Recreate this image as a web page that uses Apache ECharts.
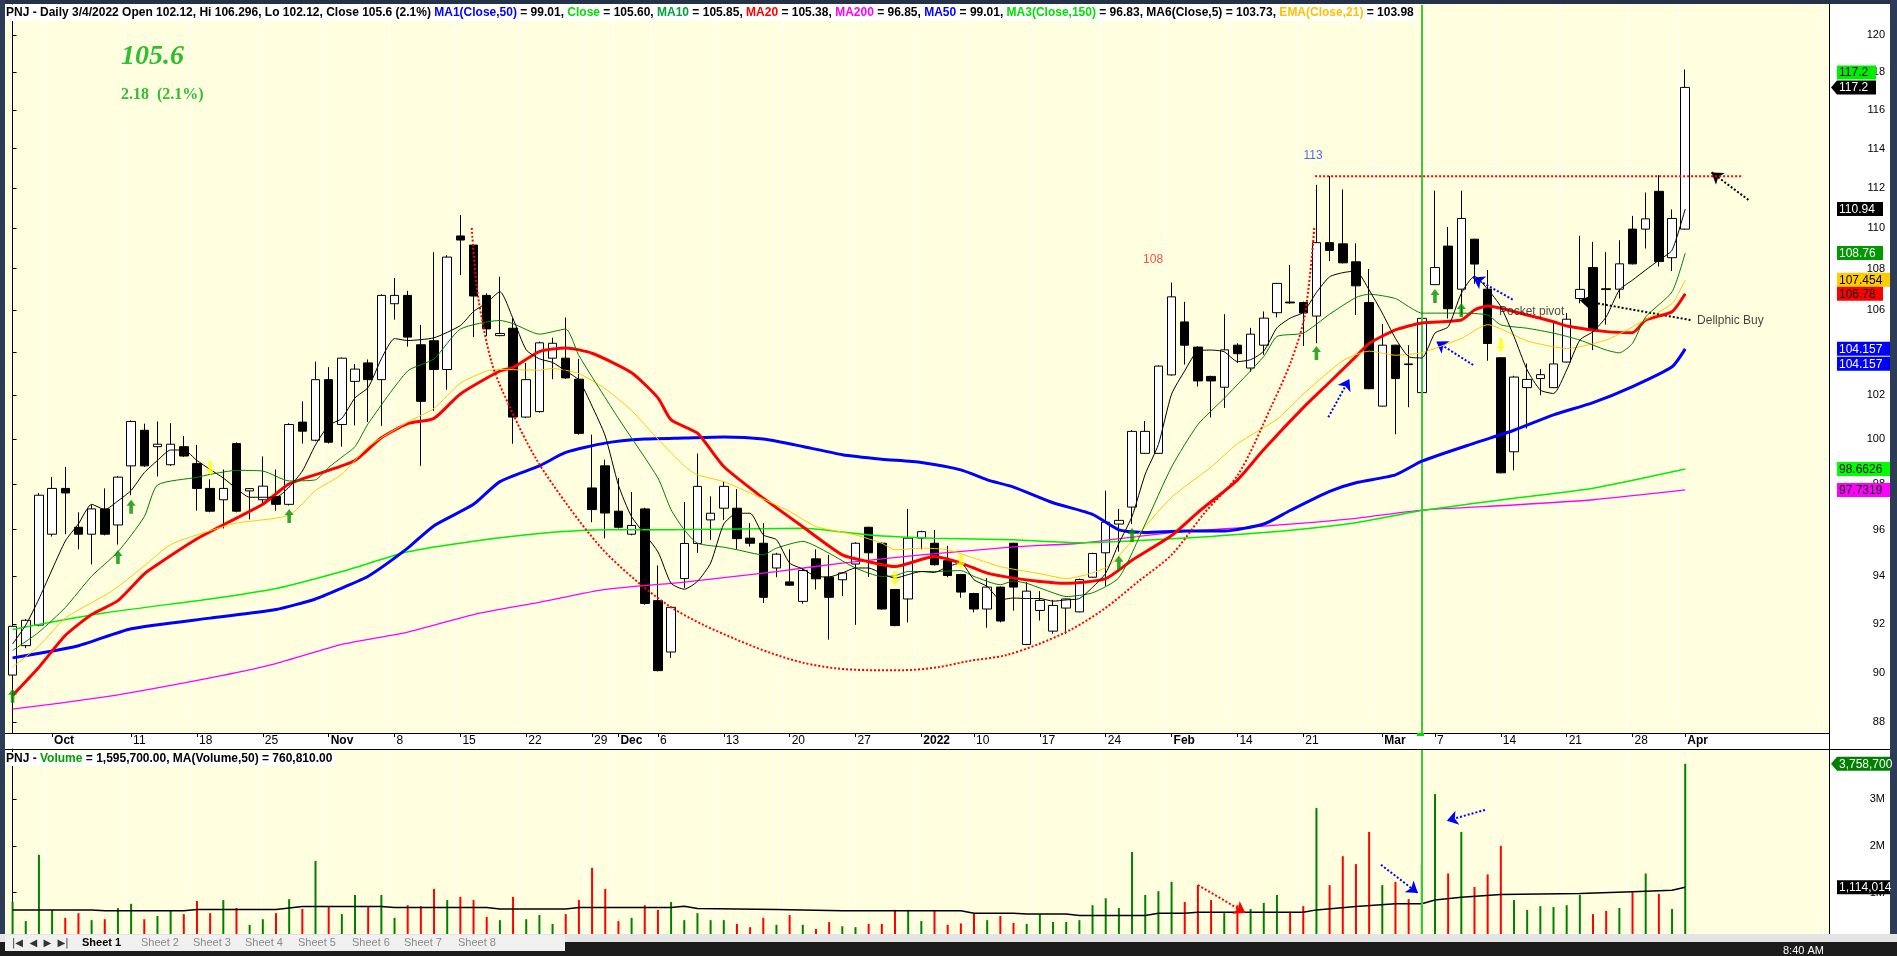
<!DOCTYPE html>
<html><head><meta charset="utf-8">
<script src="https://cdn.jsdelivr.net/npm/echarts@6/dist/echarts.min.js"></script>
<style>html,body{margin:0;padding:0;background:#2c3b56;overflow:hidden}#c{width:1897px;height:956px}</style>
</head><body><div id="c"></div>
<script>
// ---------------- data ----------------
const dates = [
'2021-09-28','2021-09-29','2021-09-30',
'2021-10-01','2021-10-04','2021-10-05','2021-10-06','2021-10-07','2021-10-08','2021-10-11','2021-10-12','2021-10-13','2021-10-14','2021-10-15',
'2021-10-18','2021-10-19','2021-10-20','2021-10-21','2021-10-22','2021-10-25','2021-10-26','2021-10-27','2021-10-28','2021-10-29',
'2021-11-01','2021-11-02','2021-11-03','2021-11-04','2021-11-05','2021-11-08','2021-11-09','2021-11-10','2021-11-11','2021-11-12',
'2021-11-15','2021-11-16','2021-11-17','2021-11-18','2021-11-19','2021-11-22','2021-11-23','2021-11-24','2021-11-25','2021-11-26',
'2021-11-29','2021-11-30',
'2021-12-01','2021-12-02','2021-12-03','2021-12-06','2021-12-07','2021-12-08','2021-12-09','2021-12-10','2021-12-13','2021-12-14',
'2021-12-15','2021-12-16','2021-12-17','2021-12-20','2021-12-21','2021-12-22','2021-12-23','2021-12-24','2021-12-27','2021-12-28',
'2021-12-29','2021-12-30','2021-12-31',
'2022-01-04','2022-01-05','2022-01-06','2022-01-07','2022-01-10','2022-01-11','2022-01-12','2022-01-13','2022-01-14','2022-01-17',
'2022-01-18','2022-01-19','2022-01-20','2022-01-21','2022-01-24','2022-01-25','2022-01-26','2022-01-27','2022-01-28',
'2022-02-07','2022-02-08','2022-02-09','2022-02-10','2022-02-11','2022-02-14','2022-02-15','2022-02-16','2022-02-17','2022-02-18',
'2022-02-21','2022-02-22','2022-02-23','2022-02-24','2022-02-25','2022-02-28',
'2022-03-01','2022-03-02','2022-03-03','2022-03-04','2022-03-07','2022-03-08','2022-03-09','2022-03-10','2022-03-11','2022-03-14',
'2022-03-15','2022-03-16','2022-03-17','2022-03-18','2022-03-21','2022-03-22','2022-03-23','2022-03-24','2022-03-25','2022-03-28',
'2022-03-29','2022-03-30','2022-03-31','2022-04-01'];

const opens = [89.9,91.1,91.95,95.8,97.8,96.1,95.8,96.9,96.2,98.8,
100.4,99.66,98.85,99.66,98.9,97.8,97.3,99.8,97.69,97.3,
97.44,97.1,100.77,99.95,102.72,100.66,102.64,103.5,102.72,106.3,
106.7,104.35,104.54,103.19,109.6,109.15,106.7,104.78,105.13,101.0,
101.25,103.72,103.72,102.74,97.82,98.8,96.8,95.8,96.9,92.97,
90.84,93.9,95.4,96.42,96.93,96.93,95.63,95.41,94.35,93.76,
92.94,94.74,93.96,93.85,94.52,96.1,95.41,93.44,93.04,95.63,
95.41,94.66,94.07,93.27,92.62,93.54,95.41,91.15,92.56,91.7,
92.66,92.5,93.96,95.0,96.24,96.98,99.36,99.36,102.94,105.43,
104.24,102.87,102.37,104.33,103.26,104.33,105.87,106.38,106.36,105.71,
109.27,109.21,108.33,106.36,101.5,104.33,103.45,102.12,107.22,109.1,
107.0,109.44,107.0,103.74,99.43,102.35,102.77,102.35,103.54,106.55,
108.05,107.02,107.0,109.94,109.94,111.83,108.53,109.94];
const highs = [91.95,92.2,97.6,98.3,98.75,96.75,97.1,97.8,98.35,100.85,
100.7,100.8,100.72,100.14,99.74,98.2,98.64,99.85,97.82,99.22,
98.64,100.72,101.72,103.56,103.3,103.75,103.44,103.66,106.75,107.54,
106.92,105.29,108.8,108.65,110.64,109.2,106.8,107.6,105.62,103.5,
104.5,104.68,105.64,103.69,100.2,99.08,98.26,97.64,96.95,94.46,
92.72,97.2,99.35,97.45,98.11,97.77,96.28,96.28,95.0,95.15,
94.3,95.15,94.91,94.18,95.45,96.12,95.45,93.46,96.9,95.95,
95.98,95.3,94.1,93.3,93.92,93.56,95.43,93.75,93.37,93.0,
93.06,93.9,95.0,97.7,96.9,100.4,100.82,103.38,107.32,106.39,
104.27,102.9,105.8,104.42,105.15,105.93,107.3,108.18,106.4,112.16,
112.6,111.92,109.24,107.98,105.33,104.35,104.33,106.296,111.86,110.05,
111.86,109.46,107.93,103.76,102.9,103.47,103.21,105.41,105.85,109.61,
109.31,108.8,109.39,110.6,111.77,112.65,110.92,118.15];
const lows = [89.5,91.0,91.9,95.7,95.8,95.15,94.5,95.75,95.35,97.5,
98.75,98.33,98.8,99.2,96.82,96.75,96.05,96.75,96.44,97.1,
96.82,97.05,99.8,99.9,99.8,99.66,100.62,100.77,100.6,105.54,
104.26,98.8,101.28,102.25,107.68,104.71,104.76,104.75,99.79,100.95,
101.2,102.74,102.75,100.2,96.32,95.62,96.05,95.75,92.8,90.05,
90.6,93.5,95.0,95.56,96.42,95.15,95.27,92.87,93.96,93.6,
92.84,93.44,91.35,93.16,91.96,93.97,92.6,91.9,92.06,95.15,
94.45,93.96,93.09,92.48,91.84,92.06,92.55,91.12,92.14,91.59,
91.59,92.48,93.94,93.59,95.05,96.24,99.34,99.34,102.9,103.42,
102.4,100.98,101.42,103.49,103.08,103.88,105.65,106.3,104.29,104.42,
108.37,108.25,105.76,102.28,101.48,100.22,101.45,102.12,107.2,105.59,
105.77,107.26,103.6,98.47,98.6,100.48,102.0,102.33,103.52,106.32,
104.1,105.3,106.55,108.2,108.98,108.1,107.88,109.92];
const closes = [91.9,92.15,97.5,97.8,97.6,95.8,96.9,95.8,98.3,100.8,
98.8,99.77,99.77,99.24,97.8,96.8,97.8,96.8,97.79,97.9,
97.1,100.66,100.36,102.72,99.86,103.72,103.21,102.72,106.7,106.7,
104.71,101.72,103.19,108.56,109.4,106.67,105.1,104.88,101.0,102.72,
104.44,104.42,102.8,100.26,96.87,96.72,96.1,96.18,92.85,90.08,
92.69,95.4,97.89,96.71,97.89,95.61,95.41,93.11,94.94,93.62,
94.24,93.89,93.11,94.14,95.41,95.0,92.62,91.93,95.63,95.91,
94.49,94.03,93.33,92.62,93.54,92.12,93.54,93.37,92.98,92.77,
93.04,93.86,94.97,96.32,96.4,100.35,100.35,103.35,106.63,104.33,
102.66,102.66,104.11,103.93,104.85,105.61,107.28,106.34,105.86,109.27,
108.89,108.28,107.16,102.3,104.33,102.77,103.42,105.6,108.05,106.06,
110.47,108.22,104.41,98.49,102.84,102.73,102.95,103.45,105.56,106.99,
105.05,106.98,108.23,108.23,110.45,108.34,110.47,117.2];

// volume in millions of shares, and bar colour (g = up, r = down)
const volM = [0.80,0.39,1.81,0.63,0.46,0.56,0.41,0.43,0.67,0.76,
0.43,0.50,0.61,0.54,0.82,0.56,0.84,0.67,0.31,0.43,
0.56,0.86,0.65,1.68,0.71,0.54,0.95,0.69,0.95,0.46,
0.73,0.71,1.08,0.84,0.91,0.84,0.48,0.41,0.91,0.43,
0.52,0.33,0.54,0.84,1.53,1.08,0.39,0.46,0.73,0.63,
0.80,0.41,0.56,0.41,0.41,0.33,0.26,0.46,0.31,0.52,
0.31,0.22,0.37,0.28,0.26,0.33,0.33,0.63,0.63,0.39,
0.61,0.31,0.34,0.56,0.41,0.50,0.35,0.33,0.54,0.37,
0.37,0.41,0.73,0.88,0.67,1.87,0.95,1.03,1.23,0.80,
1.16,0.84,0.56,0.73,0.65,0.78,0.95,0.59,0.71,2.81,
1.16,1.78,1.61,2.30,1.16,1.23,0.86,1.5957,3.11,1.41,
2.30,1.12,1.39,2.00,0.84,0.63,0.71,0.69,0.73,0.95,
0.54,0.61,0.67,1.03,1.41,0.97,0.65,3.7587];
const volDir = ('ggggrrgrgg'+'rggrrrgrgg'+'rgrgrggrgg'+'rrrgrrrgrg'+'ggrrrrrgrr'+
 'gggggrrrgr'+'grrggrrrgg'+'rrrrgrrggg'+'gggggggggr'+'rrgrgggrrg'+
 'rrrrgrrggr'+'grrrgggggg'+'rrgrgrgg').split('');
const volMA50 = [[0,.63],[6,.63],[7,.61],[13,.61],[14,.64],[20,.64],[22,.70],[28,.70],[29,.68],[36,.68],
 [37,.65],[42,.65],[43,.68],[50,.68],[51,.71],[52,.66],[58,.64],[63,.61],[72,.61],[73,.56],[76,.56],
 [77,.54],[80,.54],[81,.51],[86,.51],[87,.56],[89,.56],[90,.58],[98,.58],[99,.63],[102,.70],[105,.76],
 [107,.761],[108,.84],[110,.90],[113,.96],[119,.98],[123,1.02],[126,1.05],[127,1.114]];

// moving averages: [bar index, value]
const ma5 = [[0,91.17],[1,91.95],[2,93.04],[4,95.5],[5,96.25],[6,97.1],[7,96.87],[8,97.25],[9,97.71],[10,98.5],[11,99.04],[12,99.51],[13,99.51],[14,99.04],[15,98.64],[16,98.26],[17,97.79],[18,97.41],[20,97.41],[21,97.86],[22,98.57],[23,99.74],[24,100.62],[25,100.94],[26,101.88],[27,102.36],[28,103.69],[29,104.64],[30,104.55],[32,104.68],[34,105.26],[35,105.93],[36,106.34],[37,106.88],[38,105.58],[39,104.11],[40,103.69],[41,103.52],[42,103.12],[43,102.7],[44,101.5],[45,100.14],[46,97.95],[47,96.56],[49,95.04],[50,93.7],[51,93.45],[52,93.78],[53,94.56],[54,96.24],[55,96.71],[56,96.71],[57,95.77],[58,95.56],[59,94.56],[60,94.31],[61,93.99],[62,93.97],[63,94.14],[64,94.35],[65,94.35],[66,94.11],[67,93.92],[68,94.07],[69,94.2],[70,94.16],[71,94.41],[72,94.56],[73,93.85],[74,93.57],[75,93.01],[76,93.08],[77,93.06],[78,93.06],[79,92.95],[80,93.0],[81,93.06],[82,93.53],[83,94.13],[84,95.41],[85,96.57],[86,98.43],[87,99.76],[88,102.05],[89,103.13],[90,104.06],[91,104.1],[92,104.02],[93,103.56],[94,103.65],[95,104.05],[96,105.15],[97,105.61],[98,105.89],[99,106.84],[100,107.6],[101,107.8],[102,107.88],[103,106.96],[104,105.85],[105,104.65],[106,103.79],[107,103.73],[108,104.9],[109,105.2],[110,106.8],[111,107.63],[112,107.0],[113,106.16],[114,104.74],[115,103.17],[116,102.24],[117,102.08],[118,103.17],[119,104.57],[120,104.97],[121,105.67],[122,106.96],[123,107.44],[124,107.93],[125,108.41],[126,108.9],[127,110.94]];
const ma10 = [[0,90.9],[2,91.66],[4,92.68],[6,94.0],[8,95.04],[10,96.56],[11,97.95],[14,98.29],[15,98.42],[17,98.6],[19,98.57],[21,98.13],[23,98.18],[24,98.73],[25,99.19],[26,99.66],[27,100.7],[30,103.12],[32,103.69],[34,105.09],[37,105.5],[38,105.35],[40,104.85],[42,105.09],[43,103.84],[46,100.94],[49,98.26],[50,96.86],[51,95.99],[52,95.41],[54,95.24],[55,95.13],[57,94.91],[58,95.2],[60,95.49],[62,94.98],[64,94.35],[66,93.99],[67,94.02],[68,94.2],[70,94.2],[72,94.24],[73,93.99],[75,93.64],[76,93.8],[77,93.7],[79,93.3],[80,93.14],[82,93.3],[84,93.94],[86,96.24],[88,98.75],[90,100.66],[92,101.86],[95,103.8],[96,104.74],[98,104.9],[100,105.8],[102,106.6],[103,106.76],[105,106.55],[106,106.16],[107,105.85],[110,105.85],[112,105.76],[113,105.29],[115,105.13],[117,104.9],[119,104.57],[121,104.1],[122,103.97],[123,104.42],[124,105.67],[126,106.87],[127,108.76]];
const ma20 = [[0,89.08],[2,90.22],[4,91.52],[6,92.39],[8,92.97],[10,94.1],[11,94.5],[14,95.6],[17,96.5],[19,97.1],[21,98.0],[24,98.6],[26,99.04],[28,100.06],[30,100.7],[32,100.94],[34,102.06],[37,103.12],[38,103.28],[40,104.03],[42,104.2],[44,103.95],[47,103.04],[49,101.88],[50,100.87],[52,100.27],[54,98.77],[57,97.37],[60,96.12],[63,94.91],[65,94.62],[67,94.41],[70,94.84],[72,94.56],[74,94.13],[76,93.92],[78,93.78],[80,93.7],[83,93.9],[85,94.68],[88,95.74],[90,96.75],[93,98.17],[95,99.53],[98,101.43],[100,102.6],[102,103.8],[103,104.41],[105,105.05],[107,105.38],[110,105.52],[111,106.0],[112,106.19],[115,105.76],[117,105.44],[118,105.24],[121,104.97],[123,104.92],[124,105.52],[126,105.92],[127,106.78]];
const ema21 = [[0,90.22],[2,91.09],[4,92.24],[7,93.19],[8,93.55],[10,94.44],[12,95.35],[15,95.95],[17,96.28],[21,96.63],[23,97.71],[25,98.42],[27,99.66],[30,100.77],[32,101.4],[34,102.56],[36,103.12],[37,103.19],[40,103.16],[41,103.24],[43,103.0],[45,102.3],[47,101.3],[49,100.0],[51,98.8],[52,98.4],[54,98.1],[56,97.6],[59,96.79],[61,96.13],[64,95.77],[66,95.41],[67,95.13],[69,95.2],[71,95.13],[73,94.77],[75,94.41],[77,94.2],[78,94.11],[80,93.9],[83,94.36],[85,95.5],[88,97.41],[91,98.75],[93,99.79],[96,100.9],[98,102.05],[101,103.6],[103,104.05],[105,103.86],[107,103.98],[110,104.65],[112,105.3],[115,104.53],[117,104.25],[118,104.17],[121,104.57],[123,105.2],[126,106.31],[127,107.454]];
const ma50 = [[0,90.6],[5,91.1],[9,91.8],[15,92.24],[20,92.6],[23,93.04],[25,93.5],[27,94.0],[30,95.2],[32,96.17],[35,97.1],[37,98.1],[40,98.8],[42,99.4],[45,99.82],[48,100.0],[51,100.05],[54,100.1],[57,100.0],[60,99.67],[63,99.3],[66,99.1],[69,98.95],[72,98.62],[74,98.18],[76,97.86],[79,97.17],[82,96.66],[84,95.99],[86,95.87],[89,95.94],[92,95.94],[95,96.24],[97,96.83],[100,97.67],[102,98.05],[105,98.4],[107,99.01],[111,99.82],[114,100.4],[117,101.1],[120,101.66],[123,102.4],[126,103.32],[127,104.157]];
const ma150 = [[0,91.77],[7,92.46],[15,93.04],[20,93.48],[25,94.2],[30,95.04],[35,95.5],[40,95.83],[45,95.99],[50,95.99],[60,96.06],[65,95.77],[70,95.63],[76,95.56],[81,95.43],[88,95.6],[95,95.87],[102,96.3],[107,96.83],[114,97.37],[120,97.81],[127,98.6626]];
const ma200 = [[0,88.53],[7,89.02],[15,89.79],[20,90.37],[25,91.15],[30,91.66],[35,92.39],[40,92.9],[45,93.44],[51,93.75],[58,94.2],[63,94.56],[69,94.91],[76,95.25],[81,95.41],[88,95.87],[95,96.15],[102,96.49],[107,96.85],[114,97.07],[120,97.3],[127,97.7319]];

// signal arrows [bar index, price]
const upArrows = [[0,89.06],[8,94.82],[9,96.99],[21,96.59],[84,94.57],[85,95.77],[99,103.96],[108,106.67],[110,106.0]];
const downArrows = [[15,98.71],[67,93.9],[72,94.63],[113,104.34]];

// hand-drawn annotations [fractional bar index, price]
const cupCurve = [[34.86,110.0],[35.34,106.67],[36.38,103.5],[37.64,101.6],[39.67,99.19],[42.19,97.02],[44.73,95.19],[47.26,93.85],[49.92,92.72],[52.45,91.96],[54.98,91.35],[57.51,90.81],[60.04,90.4],[62.57,90.17],[65.1,90.1],[67.63,90.1],[70.17,90.21],[72.7,90.48],[75.35,90.7],[77.88,91.16],[80.42,91.78],[82.95,92.65],[85.48,93.78],[88.01,94.92],[90.54,96.75],[93.07,98.43],[95.6,101.52],[97.12,103.65],[98.13,105.8],[98.84,110.0]];
const pivotLine = [[98.9,112.6],[131.3,112.6]];
const priceArrows = [ // [from, to, colour]
  [[99.9,100.99],[101.5,102.75],'#0000ff'],
  [[110.9,103.4],[108.1,104.5],'#0000ff'],
  [[113.9,106.5],[110.9,107.57],'#0000ff'],
  [[131.8,111.4],[129.0,112.79],'#000000'],
  [[127.4,105.52],[119.0,106.47],'#000000']];
const volArrows = [
  [[103.9,1.595],[106.7,0.99],'#0000ff'],
  [[111.8,2.77],[108.9,2.54],'#0000ff'],
  [[90.0,1.163],[93.6,0.565],'#ff0000']];
const notes = [[98.75,113.63,'113','#1f3fff','center'],[86.6,108.42,'108','#ff2020','center'],
  [112.86,105.9,'Pocket pivot','#222222','left'],[127.9,105.47,'Dellphic Buy','#111111','left']];

// axis ticks
const tickDates = ['2021-10-01','2021-10-11','2021-10-18','2021-10-25','2021-11-01','2021-11-08','2021-11-15','2021-11-22','2021-11-29','2021-12-01','2021-12-06','2021-12-13','2021-12-20','2021-12-27','2022-01-04','2022-01-10','2022-01-17','2022-01-24','2022-02-07','2022-02-14','2022-02-21','2022-03-01','2022-03-07','2022-03-14','2022-03-21','2022-03-28','2022-04-01'];
const tickText = ['Oct','11','18','25','Nov','8','15','22','29','Dec','6','13','20','27','2022','10','17','24','Feb','14','21','Mar','7','14','21','28','Apr'];
const boldTicks = ['Oct','Nov','Dec','2022','Feb','Mar','Apr'];
const priceTicks = [88,90,92,94,96,98,100,102,104,106,108,110,112,114,116,118,120];
const volTicks = [1e6,2e6,3e6];

// ---------------- chart ----------------
const FONT = 'Liberation Sans';
const chart = echarts.init(document.getElementById('c'));
const BLANK = 10;
const cats = dates.concat(Array.from({length:BLANK},(_,k)=>'blank'+k));
const tickMap = {}; tickDates.forEach((d,k)=>tickMap[d]=tickText[k]);
const isTick = (i,v)=> tickMap[v]!==undefined;
const GL = 6, GW = 1817.5;
const cursorDate = '2022-03-04';
const CURSOR = '#3cc83c';

const candleData = dates.map((d,i)=>[opens[i],closes[i],lows[i],highs[i]]);
const volData = volM.map((v,i)=>({value:Math.round(v*1e6), itemStyle:{color: volDir[i]==='g'?'#008000':'#ff0000'}}));
const maLine = (data,color,width,z)=>({type:'line',xAxisIndex:0,yAxisIndex:0,data,showSymbol:false,symbol:'none',smooth:0.2,
  lineStyle:{color,width},z,silent:true,animation:false});
const arrowML = (list)=>list.map(a=>[{coord:a[0],lineStyle:{color:a[2]},itemStyle:{color:a[2]}},{coord:a[1]}]);

const hdr = '{k|PNJ - Daily 3/4/2022 Open 102.12, Hi 106.296, Lo 102.12, Close 105.6 (2.1%) }{b|MA1(Close,50)}{k| = 99.01, }{l|Close}{k| = 105.60, }{g|MA10}{k| = 105.85, }{r|MA20}{k| = 105.38, }{m|MA200}{k| = 96.85, }{b|MA50}{k| = 99.01, }{l|MA3(Close,150)}{k| = 96.83, MA6(Close,5) = 103.73, }{o|EMA(Close,21)}{k| = 103.98}';
const rs = c=>({color:c,fontSize:12,fontFamily:FONT});

const option = {
  animation:false,
  backgroundColor:'#ffffe0',
  title:[
    {left:4,top:5,padding:[2,2,2,2],backgroundColor:'#ffffff',text:hdr,
     textStyle:{rich:{k:rs('#000'),b:rs('#0000ff'),l:rs('#00e000'),g:rs('#00a040'),r:rs('#ff0000'),m:rs('#ff00ff'),o:rs('#ffc000')}}},
    {left:4,top:752,padding:[1,2,1,2],backgroundColor:'#ffffff',text:'{k|PNJ - }{g|Volume}{k| = 1,595,700.00, MA(Volume,50) = 760,810.00}',
     textStyle:{rich:{k:rs('#000'),g:rs('#00a000')}}}
  ],
  grid:[{left:GL,top:5,width:GW,height:728},{left:GL,top:749,width:GW,height:190.3}],
  xAxis:[
    {type:'category',gridIndex:0,data:cats,boundaryGap:true,
     axisLine:{show:true,lineStyle:{color:'#000',width:1}},
     axisTick:{show:true,interval:isTick,alignWithLabel:true,length:4,lineStyle:{color:'#000'}},
     axisLabel:{show:true,interval:isTick,align:'left',margin:2,padding:[0,0,0,2],color:'#000',fontSize:12,fontFamily:FONT,
       formatter:v=>{const t=tickMap[v]; if(t===undefined) return ''; return boldTicks.indexOf(t)>=0?'{m|'+t+'}':t;},
       rich:{m:{fontWeight:'bold',fontSize:12,fontFamily:FONT,color:'#000'}}},
     splitLine:{show:true,interval:isTick,lineStyle:{color:'#ffffff',width:1}}},
    {type:'value',gridIndex:0,min:-0.5,max:137.5,show:false},
    {type:'category',gridIndex:1,data:cats,boundaryGap:true,position:'top',
     axisLine:{show:true,lineStyle:{color:'#000'}},axisTick:{show:false},axisLabel:{show:false},
     splitLine:{show:true,interval:isTick,lineStyle:{color:'#ffffff',width:1}}},
    {type:'value',gridIndex:1,min:-0.5,max:137.5,show:false}
  ],
  yAxis:[
    {type:'log',gridIndex:0,position:'right',offset:5.5,min:87.58,max:121.64,logBase:10,
     axisLine:{show:true,lineStyle:{color:'#000'}},
     axisTick:{show:true,length:4,customValues:priceTicks,lineStyle:{color:'#000'}},
     axisLabel:{show:true,customValues:priceTicks,align:'right',margin:56,color:'#000',fontSize:11,fontFamily:FONT},
     splitLine:{show:false}},
    {type:'value',gridIndex:1,position:'right',offset:5.5,min:0,max:4075000,
     axisLine:{show:true,lineStyle:{color:'#000'}},
     axisTick:{show:true,length:4,customValues:volTicks,lineStyle:{color:'#000'}},
     axisLabel:{show:true,customValues:volTicks,align:'right',margin:56,color:'#000',fontSize:11,fontFamily:FONT,formatter:v=>(v/1e6)+'M'},
     splitLine:{show:false}}
  ],
  series:[
    {type:'candlestick',name:'PNJ',xAxisIndex:0,yAxisIndex:0,data:candleData,barWidth:9,z:3,
     itemStyle:{color:'#ffffff',color0:'#000000',borderColor:'#000000',borderColor0:'#000000',borderWidth:1},
     markLine:{silent:true,symbol:'none',label:{show:false},animation:false,
       data:[{xAxis:cursorDate,lineStyle:{color:CURSOR,width:2,type:'solid'}}]}},
    maLine(ma200,'#ff00ff',1.3,4),
    maLine(ma150,'#00ee00',1.5,4),
    maLine(ma50,'#0000ff',3,5),
    maLine(ma20,'#ff0000',3,5),
    maLine(ema21,'#ffc800',1,6),
    maLine(ma10,'#008000',1,6),
    maLine(ma5,'#000000',1,7),
    {type:'scatter',xAxisIndex:0,yAxisIndex:0,data:upArrows,symbol:'path://M5,0L10,6L7,6L7,14L3,14L3,6L0,6Z',symbolSize:[9,14],
     itemStyle:{color:'#009000'},z:8,silent:true},
    {type:'scatter',xAxisIndex:0,yAxisIndex:0,data:downArrows,symbol:'path://M5,0L10,6L7,6L7,14L3,14L3,6L0,6Z',symbolSize:[9,14],symbolRotate:180,
     itemStyle:{color:'#ffff00'},z:8,silent:true},
    {type:'line',xAxisIndex:1,yAxisIndex:0,data:cupCurve,smooth:0.3,showSymbol:false,symbol:'none',
     lineStyle:{color:'#ff0000',width:2,type:[2,2]},z:9,silent:true},
    {type:'line',xAxisIndex:1,yAxisIndex:0,data:pivotLine,showSymbol:false,symbol:'none',
     lineStyle:{color:'#ff0000',width:2,type:[2,2]},z:9,silent:true,
     markLine:{silent:true,symbol:['none','arrow'],symbolSize:11,label:{show:false},lineStyle:{width:2,type:[2,2]},
       data:arrowML(priceArrows)}},
    {type:'scatter',xAxisIndex:1,yAxisIndex:0,symbolSize:0,silent:true,z:10,
     data:notes.map(n=>({value:[n[0],n[1]],label:{show:true,position:'inside',formatter:n[2],color:n[3],align:n[4],verticalAlign:'middle',
       fontSize:12,fontFamily:FONT}}))},
    {type:'bar',xAxisIndex:2,yAxisIndex:1,data:volData,barWidth:2,z:3,
     markLine:{silent:true,symbol:'none',label:{show:false},data:[{xAxis:cursorDate,lineStyle:{color:CURSOR,width:2,type:'solid'}}]}},
    {type:'line',xAxisIndex:2,yAxisIndex:1,data:volMA50.map(p=>[p[0],Math.round(p[1]*1e6)]),showSymbol:false,symbol:'none',step:false,
     lineStyle:{color:'#000',width:1.5},z:4,silent:true},
    {type:'line',xAxisIndex:3,yAxisIndex:1,data:[],silent:true,
     markLine:{silent:true,symbol:['none','arrow'],symbolSize:11,label:{show:false},lineStyle:{width:2,type:[2,2]},
       data:volArrows.map(a=>[{coord:[a[0][0],a[0][1]*1e6],lineStyle:{color:a[2]},itemStyle:{color:a[2]}},{coord:[a[1][0],a[1][1]*1e6]}])}}
  ]
};
chart.setOption(option);

// ---------- overlays: frame, labels, value tags ----------
const py = v=>chart.convertToPixel({yAxisIndex:0},v);
const pv = v=>chart.convertToPixel({yAxisIndex:1},v);
const g = [];
const rect=(x,y,w,h,fill,z)=>g.push({type:'rect',shape:{x,y,width:w,height:h},style:{fill},z:z===undefined?-10:z,silent:true});
const line=(x1,y1,x2,y2,c,z)=>g.push({type:'line',shape:{x1,y1,x2,y2},style:{stroke:c,lineWidth:1},z:z||20,silent:true});
const txt=(x,y,t,font,fill,align,z)=>g.push({type:'text',x,y,style:{text:t,font,fill,textAlign:align||'left',textVerticalAlign:'middle'},z:z||60,silent:true});
// white axis strips
rect(5,733,1885,16,'#ffffff');
rect(1829,4,61,930,'#ffffff');
line(5,733.5,1829,733.5,'#000');
line(5,749.5,1890,749.5,'#000');
line(1829.5,4,1829.5,934,'#000');
// frame
rect(0,0,1897,4,'#24324a',30);
rect(0,0,5,956,'#2c3b56',30);
rect(1890,0,7,956,'#2c3b56',30);
// bottom bar / tabs / taskbar
rect(0,934,1897,8,'#e4e4e4',30);
rect(0,942,1897,14,'#1c1c1c',30);
rect(5,935,560,16,'#f0f0f0',31);
txt(12,943,'|◀  ◀  ▶  ▶|','10px "DejaVu Sans"','#333','left',32);
['Sheet 1','Sheet 2','Sheet 3','Sheet 4','Sheet 5','Sheet 6','Sheet 7','Sheet 8'].forEach((s,k)=>{
  const xs=[82,141,193,245,298,352,404,458][k];
  txt(xs,943,s,(k===0?'bold ':'')+'11px "Liberation Sans"',k===0?'#000':'#8a8a8a','left',32);
});
txt(1783,951,'8:40 AM','11px "Liberation Sans"','#ffffff','left',32);
// cursor marker on x axis
rect(1417,733,7,3,'#00e000',25);
// big close price
g.push({type:'text',x:121,y:57,style:{text:'105.6',font:'italic bold 28px "Liberation Serif"',fill:'#2fbf2f',textVerticalAlign:'middle'},z:60});
g.push({type:'text',x:121,y:95,style:{text:'2.18  (2.1%)',font:'bold 16px "Liberation Serif"',fill:'#2fbf2f',textVerticalAlign:'middle'},z:60});
// value tags on the right axis
function tag(y,t,bg,fg,w,arrow){
  const h=14,x=1837;
  if(arrow) g.push({type:'polygon',shape:{points:[[1831,y],[x,y-h/2],[x+w,y-h/2],[x+w,y+h/2],[x,y+h/2]]},style:{fill:bg},z:50,silent:true});
  else g.push({type:'rect',shape:{x,y:y-h/2,width:w,height:h},style:{fill:bg},z:50,silent:true});
  g.push({type:'text',x:x+2,y:y+0.5,style:{text:t,font:'12px "Liberation Sans"',fill:fg,textVerticalAlign:'middle'},z:51,silent:true});
}
tag(py(117.2)-15,'117.2','#00ee00','#000',39,false);
tag(py(117.2),'117.2','#000000','#fff',39,true);
tag(py(110.94),'110.94','#000000','#fff',46,false);
tag(py(108.76),'108.76','#009900','#fff',46,false);
tag(py(107.454),'107.454','#ffcc00','#000',53,false);
tag(py(106.78),'106.78','#ff0000','#000',46,false);
tag(py(104.157),'104.157','#0000ff','#fff',53,false);
tag(py(104.157)+15,'104.157','#0000ff','#fff',53,false);
tag(py(98.6626),'98.6626','#00ff00','#000',53,false);
tag(py(97.7319),'97.7319','#ff00ff','#000',53,false);
tag(pv(3758700),'3,758,700','#008000','#fff',53,true);
tag(pv(1114014),'1,114,014','#000000','#fff',53,false);
chart.setOption({graphic:g});
</script></body></html>
